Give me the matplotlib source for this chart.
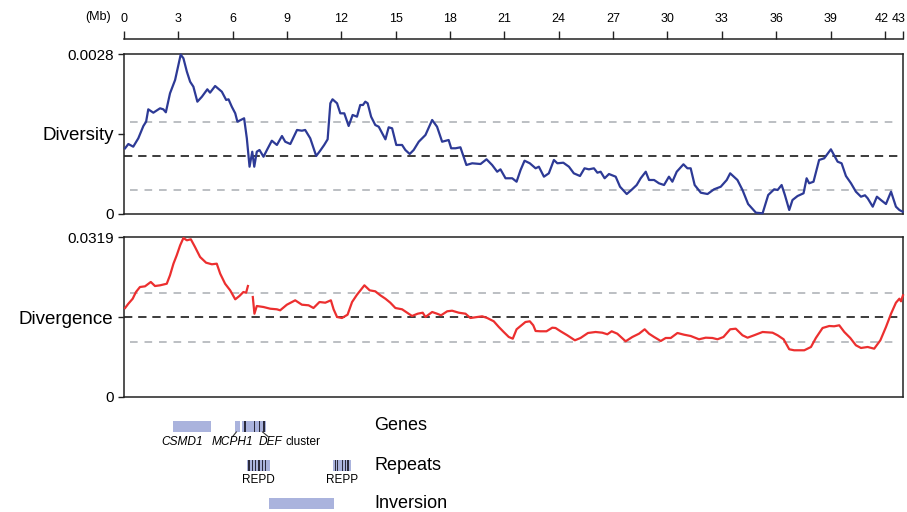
import numpy as np
import matplotlib
matplotlib.use("Agg")
import matplotlib.pyplot as plt
import matplotlib.transforms as mtransforms

plt.rcParams['font.family'] = ['Liberation Sans', 'DejaVu Sans']

# ---------------- data ----------------
mb_ticks = [0, 3, 6, 9, 12, 15, 18, 21, 24, 27, 30, 33, 36, 39, 42, 43]

diversity_pos = [0.06,0.24,0.51,0.79,1.07,1.22,1.34,1.62,1.99,2.17,2.31,2.54,2.82,3.00,3.13,3.28,3.47,3.65,3.83,4.05,
                 4.30,4.60,4.75,5.03,5.40,5.64,5.77,5.95,6.14,6.26,6.63,6.78,6.93,7.08,7.19,7.33,7.48,7.70,7.89,8.16,
                 8.44,8.72,8.90,9.18,9.55,9.82,10.00,10.28,10.61,10.83,11.05,11.24,11.39,11.51,11.76,11.94,12.16,12.40,12.62,12.86,
                 13.04,13.19,13.32,13.45,13.64,13.87,14.06,14.43,14.61,14.80,15.03,15.35,15.53,15.77,15.99,16.27,16.64,17.01,17.28,17.56,
                 17.92,18.06,18.30,18.57,18.90,19.22,19.68,20.01,20.32,20.60,20.78,21.06,21.43,21.67,21.89,22.11,22.40,22.72,22.90,23.18,
                 23.45,23.73,23.92,24.25,24.56,24.83,25.17,25.42,25.66,25.94,26.13,26.31,26.53,26.77,27.14,27.38,27.75,28.01,28.30,28.52,
                 28.80,28.98,29.26,29.53,29.81,30.08,30.27,30.51,30.88,31.10,31.28,31.50,31.84,32.21,32.57,32.94,33.27,33.46,33.86,34.14,
                 34.45,34.88,35.25,35.56,35.89,36.08,36.30,36.48,36.72,36.90,37.18,37.51,37.68,37.82,38.06,38.37,38.65,39.02,39.39,39.61,
                 39.85,40.13,40.40,40.68,40.90,41.05,41.33,41.56,41.78,42.06,42.34,42.61,42.80,42.98]
diversity_val = [0.001147,0.001222,0.001175,0.001322,0.001538,0.001613,0.001830,0.001771,0.001848,0.001830,
                 0.001778,0.002111,0.002344,0.002607,0.002790,0.002725,0.002490,0.002314,0.002227,0.001964,
                 0.002051,0.002181,0.002122,0.002239,0.002139,0.001994,0.002006,0.001876,0.001760,0.001613,
                 0.001673,0.001322,0.000824,0.001087,0.000824,0.001087,0.001117,0.000999,0.001117,0.001280,
                 0.001205,0.001362,0.001262,0.001222,0.001468,0.001455,0.001468,0.001322,0.001012,0.001105,
                 0.001205,0.001304,0.001936,0.002006,0.001936,0.001760,0.001760,0.001538,0.001731,0.001701,
                 0.001906,0.001906,0.001964,0.001936,0.001701,0.001555,0.001525,0.001304,0.001515,0.001497,
                 0.001205,0.001205,0.001117,0.001047,0.001117,0.001262,0.001380,0.001643,0.001525,0.001262,
                 0.001292,0.001147,0.001147,0.001164,0.000854,0.000884,0.000871,0.000954,0.000854,0.000736,
                 0.000778,0.000621,0.000621,0.000561,0.000766,0.000929,0.000884,0.000796,0.000824,0.000649,
                 0.000708,0.000942,0.000884,0.000894,0.000824,0.000708,0.000661,0.000796,0.000778,0.000796,
                 0.000719,0.000736,0.000621,0.000696,0.000649,0.000473,0.000345,0.000416,0.000503,0.000621,
                 0.000736,0.000591,0.000591,0.000533,0.000503,0.000649,0.000561,0.000736,0.000866,0.000796,
                 0.000796,0.000503,0.000368,0.000345,0.000428,0.000473,0.000591,0.000708,0.000591,0.000416,
                 0.000170,0.000018,0.000007,0.000328,0.000428,0.000416,0.000503,0.000328,0.000065,0.000240,
                 0.000310,0.000358,0.000621,0.000533,0.000561,0.000942,0.000971,0.001129,0.000912,0.000884,
                 0.000661,0.000533,0.000386,0.000298,0.000323,0.000270,0.000123,0.000298,0.000240,0.000170,
                 0.000386,0.000123,0.000065,0.000035]
diversity_max = 0.0028
diversity_mean = 0.00102
diversity_band = [0.000415, 0.00161]

nan = np.nan
divergence_pos = [0.06,0.24,0.48,0.66,0.88,1.16,1.48,1.71,1.99,2.36,2.54,2.73,2.91,3.10,3.28,3.47,3.69,3.92,4.20,4.53,
                  4.85,5.12,5.31,5.58,5.86,6.14,6.37,6.59,6.74,6.84,6.97,7.11,7.20,7.33,7.70,8.07,8.44,8.62,8.99,9.45,
                  9.82,10.19,10.46,10.79,11.11,11.42,11.57,11.76,12.03,12.34,12.59,12.86,13.27,13.56,13.87,14.15,14.43,14.70,14.98,15.35,
                  15.63,15.90,16.21,16.49,16.64,17.01,17.28,17.50,17.84,18.11,18.48,18.85,19.12,19.49,19.77,20.05,20.41,20.69,20.96,21.24,
                  21.46,21.67,21.89,22.16,22.40,22.59,22.72,22.99,23.32,23.64,23.82,24.10,24.47,24.89,25.20,25.61,26.03,26.40,26.68,26.92,
                  27.23,27.69,28.06,28.43,28.74,28.98,29.26,29.63,29.90,30.18,30.55,30.91,31.28,31.74,32.11,32.48,32.76,33.09,33.46,33.77,
                  34.14,34.42,34.78,35.25,35.80,36.08,36.41,36.72,36.99,37.55,37.92,38.19,38.56,38.93,39.20,39.48,39.76,40.09,40.40,40.68,
                  41.05,41.41,41.75,42.06,42.34,42.61,42.80,42.89,43.00]
divergence_val = [0.01775,0.01861,0.01961,0.02095,0.02195,0.02209,0.02296,0.02215,0.02229,0.02261,
                  0.02430,0.02662,0.02830,0.03030,0.03176,0.03130,0.03150,0.02996,0.02796,0.02682,
                  0.02650,0.02662,0.02462,0.02261,0.02129,0.01949,0.02015,0.02095,0.02081,0.02215,
                  nan,0.01995,0.01661,0.01815,0.01795,0.01761,0.01749,0.01729,0.01841,0.01929,
                  0.01841,0.01829,0.01775,0.01895,0.01881,0.01929,0.01749,0.01595,0.01575,0.01641,
                  0.01895,0.02041,0.02229,0.02129,0.02109,0.02029,0.01961,0.01881,0.01775,0.01749,
                  0.01681,0.01615,0.01661,0.01681,0.01595,0.01695,0.01661,0.01629,0.01709,0.01721,
                  0.01681,0.01661,0.01575,0.01595,0.01609,0.01575,0.01509,0.01395,0.01295,0.01195,
                  0.01161,0.01349,0.01415,0.01495,0.01509,0.01429,0.01315,0.01309,0.01309,0.01381,
                  0.01375,0.01309,0.01229,0.01129,0.01175,0.01275,0.01295,0.01281,0.01249,0.01309,
                  0.01261,0.01109,0.01195,0.01261,0.01349,0.01261,0.01195,0.01115,0.01175,0.01175,
                  0.01275,0.01241,0.01215,0.01149,0.01181,0.01175,0.01149,0.01195,0.01349,0.01361,
                  0.01229,0.01181,0.01229,0.01295,0.01281,0.01229,0.01149,0.00949,0.00929,0.00929,
                  0.00995,0.01175,0.01375,0.01415,0.01409,0.01429,0.01295,0.01175,0.01029,0.00975,
                  0.00995,0.00961,0.01129,0.01395,0.01661,0.01881,0.01961,0.01909,0.02029]
divergence_max = 0.0319
divergence_mean = 0.01595
divergence_band = [0.01095, 0.0208]

# annotation tracks (Mb)
gene_blocks = [(2.72, 4.81), (6.13, 6.41), (6.52, 7.85)]
def_bars = [(6.60, 6.73), (7.15, 7.22), (7.44, 7.52), (7.70, 7.78)]
repeat_blocks = [(6.78, 8.07), (11.53, 12.53)]
repeat_bars = [6.90, 7.08, 7.27, 7.45, 7.63, 7.82, 11.66, 11.79, 12.07, 12.21, 12.36]
inversion_block = (8.03, 11.61)
repeat_names = ["REPD", "REPP"]
track_names = ["Genes", "Repeats", "Inversion"]

# ---------------- figure ----------------
W, H = 907, 512
fig = plt.figure(figsize=(W / 100, H / 100), dpi=100)

def fx(px):
    return px / W

def fy(py):
    return 1 - py / H

L, R = 124, 903
left, width = fx(L), (R - L) / W

blue = '#2d3a96'
red = '#ec2f2f'
frame = '#222222'
track_col = '#aab3dd'
bar_col = '#2b2b3d'

# ruler at top
axr = fig.add_axes([left, fy(40), width, 0.002])
axr.set_xlim(0, 43)
for s in ['left', 'right', 'bottom']:
    axr.spines[s].set_visible(False)
axr.spines['top'].set_linewidth(1.1)
axr.spines['top'].set_color(frame)
axr.set_yticks([])
axr.xaxis.set_ticks_position('top')
axr.set_xticks(mb_ticks)
axr.set_xticklabels([str(t) for t in mb_ticks])
axr.tick_params(axis='x', direction='out', length=6, width=1.0, color=frame,
                labelsize=9, pad=4)
for tick in axr.xaxis.get_major_ticks():
    if tick.get_loc() == 42:
        tick.label2.set_transform(tick.label2.get_transform() +
                                  mtransforms.ScaledTranslation(-3 / 100, 0, fig.dpi_scale_trans))
    if tick.get_loc() == 43:
        tick.label2.set_horizontalalignment('right')
        tick.label2.set_transform(tick.label2.get_transform() +
                                  mtransforms.ScaledTranslation(3 / 100, 0, fig.dpi_scale_trans))
fig.text(fx(98), fy(17), '(Mb)', fontsize=9, ha='center', va='center')


def panel(top_px, bot_px, pos, val, vmax, mean, band, color, label, maxlabel):
    ax = fig.add_axes([left, fy(bot_px), width, (bot_px - top_px) / H])
    ax.set_xlim(0, 43)
    ax.set_ylim(0, vmax)
    ax.plot(pos, val, color=color, lw=1.6, solid_joinstyle='round', zorder=3, clip_on=False)
    ax.axhline(mean, color='#1a1a1a', lw=1.2, dashes=(5, 3.5), zorder=2)
    for b in band:
        ax.axhline(b, xmin=0.008, xmax=0.99, color='#a9adb3', lw=1.1, dashes=(5, 4.5), zorder=2)
    for s in ax.spines.values():
        s.set_color(frame)
        s.set_linewidth(1.1)
    ax.set_xticks([])
    ax.set_yticks([0, vmax / 2, vmax])
    ax.set_yticklabels(['0', label, maxlabel])
    ax.tick_params(axis='y', direction='out', length=4.5, width=1.0, color=frame, pad=3)
    labs = ax.get_yticklabels()
    labs[0].set_fontsize(11)
    labs[1].set_fontsize(13.5)
    labs[2].set_fontsize(11)
    return ax

panel(54, 213.7, diversity_pos, diversity_val, diversity_max, diversity_mean,
      diversity_band, blue, 'Diversity', '0.0028')
panel(237.3, 396.7, divergence_pos, divergence_val, divergence_max, divergence_mean,
      divergence_band, red, 'Divergence', '0.0319')

# annotation tracks
axt = fig.add_axes([left, 0, width, fy(405)])
axt.set_xlim(0, 43)
axt.set_ylim(512, 405)
axt.axis('off')

# genes row
for a, b in gene_blocks:
    axt.add_patch(plt.Rectangle((a, 420.5), b - a, 11.5, color=track_col, lw=0))
for a, b in def_bars:
    axt.add_patch(plt.Rectangle((a, 420.5), b - a, 11.5, color=bar_col, lw=0))
axt.plot([6.0, 6.2], [436.5, 432], color='#333333', lw=0.8)
axt.plot([7.65, 7.95], [432, 436.5], color='#333333', lw=0.8)
axt.text(3.2, 442, 'CSMD1', fontsize=8.6, style='italic', ha='center', va='center')
axt.text(6.0, 442, 'MCPH1', fontsize=8.6, style='italic', ha='center', va='center')
axt.text(7.42, 442, 'DEF', fontsize=8.6, style='italic', ha='left', va='center')
axt.text(8.9, 442, 'cluster', fontsize=8.6, ha='left', va='center')

# repeats row
for a, b in repeat_blocks:
    axt.add_patch(plt.Rectangle((a, 459.5), b - a, 11, color=track_col, lw=0))
for x in repeat_bars:
    axt.add_patch(plt.Rectangle((x - 0.035, 459.5), 0.07, 11, color=bar_col, lw=0))
for (a, b), name in zip(repeat_blocks, repeat_names):
    axt.text((a + b) / 2, 480, name, fontsize=8.5, ha='center', va='center')

# inversion row
axt.add_patch(plt.Rectangle((inversion_block[0], 497.5), inversion_block[1] - inversion_block[0],
                            11.5, color=track_col, lw=0))

for name, y in zip(track_names, [426, 465, 503]):
    axt.text(13.8, y, name, fontsize=13, ha='left', va='center')

fig.savefig('out.png', dpi=100)
